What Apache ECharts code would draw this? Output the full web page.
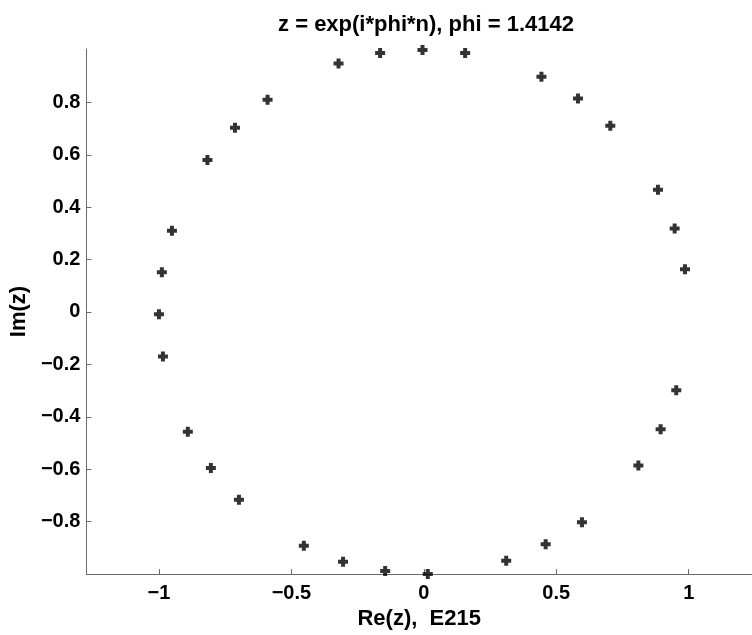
<!DOCTYPE html>
<html>
<head>
<meta charset="utf-8">
<script src="https://cdn.jsdelivr.net/npm/echarts@6/dist/echarts.min.js"></script>
<style>
html,body{margin:0;padding:0;background:#fff;}
#c{width:752px;height:635px;}
</style>
</head>
<body>
<div id="c"></div>
<script>
// Points (Re(z), Im(z))
const reZ = [-0.005, 0.156, -0.165, -0.322, 0.444, 0.582, -0.590, 0.704, -0.713, -0.817,
             0.884, -0.951, 0.947, -0.989, 0.986, -1.000, -0.985, 0.953, -0.891, 0.894,
             -0.804, 0.810, -0.698, 0.597, -0.453, 0.460, -0.305, 0.311, -0.146, 0.015];
const imZ = [1.000, 0.989, 0.989, 0.949, 0.898, 0.815, 0.810, 0.711, 0.703, 0.580,
             0.467, 0.310, 0.319, 0.152, 0.163, -0.009, -0.170, -0.299, -0.457, -0.448,
             -0.596, -0.586, -0.717, -0.803, -0.892, -0.887, -0.954, -0.950, -0.989, -1.000];
const xTicks = [-1, -0.5, 0, 0.5, 1];
const yTicks = [-0.8, -0.6, -0.4, -0.2, 0, 0.2, 0.4, 0.6, 0.8];
const titleText = 'z = exp(i*phi*n), phi = 1.4142';
const xName = 'Re(z),  E215';
const yName = 'Im(z)';

const fmt = v => (v < 0 ? '\u2212' + String(-v) : String(v));
const font = 'Liberation Sans, Arial, Helvetica, sans-serif';
const axisCol = '#6b6b6b';

const chart = echarts.init(document.getElementById('c'), null, {renderer: 'canvas'});
chart.setOption({
  animation: false,
  backgroundColor: '#fff',
  title: {
    text: titleText, left: 421, top: 9, textAlign: 'center',
    textStyle: {fontFamily: font, fontWeight: 'bold', fontSize: 22, color: '#000'}
  },
  grid: {left: 86, top: 49, right: 0, bottom: 56, containLabel: false},
  xAxis: {
    type: 'value', min: -1.274, max: 1.239,
    name: xName, nameLocation: 'middle', nameGap: 33,
    nameTextStyle: {fontFamily: font, fontWeight: 'bold', fontSize: 22, color: '#000'},
    axisLine: {show: true, onZero: false, lineStyle: {color: axisCol, width: 1}},
    axisTick: {show: true, inside: true, length: 5, customValues: xTicks, lineStyle: {color: axisCol}},
    axisLabel: {customValues: xTicks, formatter: fmt, margin: 9,
      fontFamily: font, fontWeight: 'bold', fontSize: 20, color: '#000'},
    splitLine: {show: false}
  },
  yAxis: {
    type: 'value', min: -1.0007, max: 1.004,
    name: yName, nameLocation: 'middle', nameGap: 52, nameRotate: 90,
    nameTextStyle: {fontFamily: font, fontWeight: 'bold', fontSize: 22, color: '#000'},
    axisLine: {show: true, onZero: false, lineStyle: {color: axisCol, width: 1}},
    axisTick: {show: true, inside: true, length: 5, customValues: yTicks, lineStyle: {color: axisCol}},
    axisLabel: {customValues: yTicks, formatter: fmt, margin: 6,
      fontFamily: font, fontWeight: 'bold', fontSize: 20, color: '#000'},
    splitLine: {show: false}
  },
  series: [{
    type: 'scatter',
    data: reZ.map((x, i) => [x, imZ[i]]),
    symbol: 'path://M3,0H7V3H10V7H7V10H3V7H0V3H3Z',
    symbolSize: 10,
    itemStyle: {color: '#000'},
    clip: false
  }]
});
</script>
</body>
</html>
